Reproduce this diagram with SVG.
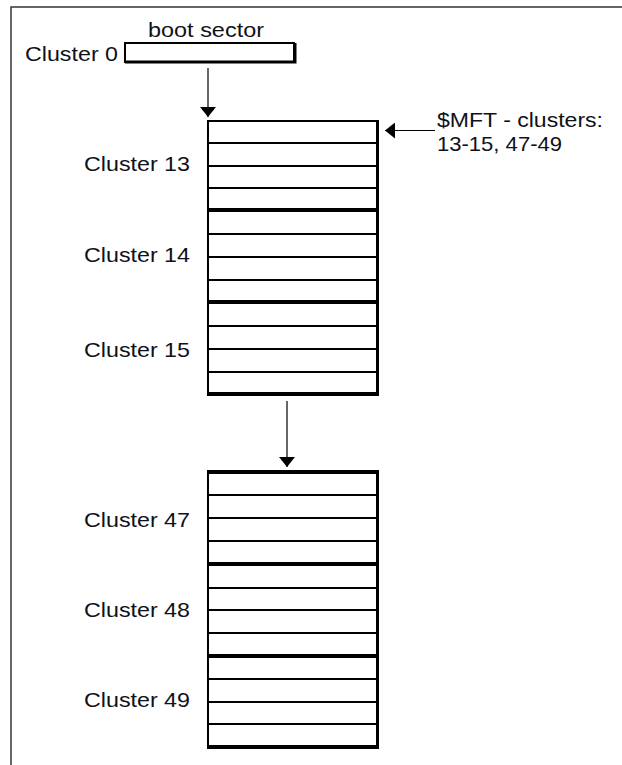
<svg xmlns="http://www.w3.org/2000/svg" width="622" height="765" viewBox="0 0 622 765">
  <style>
    .lbl { font-family: "Liberation Sans", Arial, sans-serif; font-size: 21px; fill: #111118; }
    .row { stroke: #000; stroke-width: 2; }
    .sep { stroke: #000; stroke-width: 4; }
    .edge { stroke: #000; fill: none; }
    .conn { stroke: #000; stroke-width: 1.2; fill: none; }
  </style>
  <defs>
    <marker id="head" viewBox="0 0 10 16" refX="10" refY="8" markerWidth="10" markerHeight="16" markerUnits="userSpaceOnUse" orient="auto">
      <path d="M0,0 L10,8 L0,16 Z" fill="#000"/>
    </marker>
  </defs>

  <!-- frame -->
  <path d="M11,765 V7 H622" fill="none" stroke="#333" stroke-width="1.5"/>

  <!-- boot sector -->
  <g id="boot">
    <rect x="125" y="43" width="169" height="19" fill="#fff" stroke="#000" stroke-width="2"/>
    <path d="M125,62 H295 V43" class="edge" stroke-width="3"/>
    <text class="lbl" x="148" y="37" textLength="116" lengthAdjust="spacingAndGlyphs">boot sector</text>
    <text class="lbl" x="25" y="61" textLength="93" lengthAdjust="spacingAndGlyphs">Cluster 0</text>
  </g>

  <!-- MFT part 1: clusters 13-15 -->
  <g id="mft1">
    <rect x="208" y="121" width="169" height="273" fill="#fff"/>
    <line class="row" x1="207" y1="121" x2="378" y2="121"/>
    <line class="row" x1="207" y1="143" x2="378" y2="143"/>
    <line class="row" x1="207" y1="166" x2="378" y2="166"/>
    <line class="row" x1="207" y1="188" x2="378" y2="188"/>
    <line class="sep" x1="207" y1="210" x2="378" y2="210"/>
    <line class="row" x1="207" y1="234" x2="378" y2="234"/>
    <line class="row" x1="207" y1="257" x2="378" y2="257"/>
    <line class="row" x1="207" y1="280" x2="378" y2="280"/>
    <line class="sep" x1="207" y1="302" x2="378" y2="302"/>
    <line class="row" x1="207" y1="326" x2="378" y2="326"/>
    <line class="row" x1="207" y1="349" x2="378" y2="349"/>
    <line class="row" x1="207" y1="372" x2="378" y2="372"/>
    <line class="sep" x1="207" y1="394" x2="379" y2="394"/>
    <line class="edge" x1="208" y1="120" x2="208" y2="396" stroke-width="2"/>
    <line class="edge" x1="377.5" y1="120" x2="377.5" y2="396" stroke-width="3"/>
    <text class="lbl" x="84" y="171" textLength="106" lengthAdjust="spacingAndGlyphs">Cluster 13</text>
    <text class="lbl" x="84" y="262" textLength="106" lengthAdjust="spacingAndGlyphs">Cluster 14</text>
    <text class="lbl" x="84" y="357" textLength="106" lengthAdjust="spacingAndGlyphs">Cluster 15</text>
  </g>

  <!-- MFT part 2: clusters 47-49 -->
  <g id="mft2">
    <rect x="208" y="472" width="169" height="275" fill="#fff"/>
    <line class="sep" x1="207" y1="472" x2="379" y2="472"/>
    <line class="row" x1="207" y1="495" x2="378" y2="495"/>
    <line class="row" x1="207" y1="518" x2="378" y2="518"/>
    <line class="row" x1="207" y1="541" x2="378" y2="541"/>
    <line class="sep" x1="207" y1="564" x2="378" y2="564"/>
    <line class="row" x1="207" y1="588" x2="378" y2="588"/>
    <line class="row" x1="207" y1="610" x2="378" y2="610"/>
    <line class="row" x1="207" y1="633" x2="378" y2="633"/>
    <line class="sep" x1="207" y1="656" x2="378" y2="656"/>
    <line class="row" x1="207" y1="679" x2="378" y2="679"/>
    <line class="row" x1="207" y1="702" x2="378" y2="702"/>
    <line class="row" x1="207" y1="724" x2="378" y2="724"/>
    <line class="sep" x1="207" y1="747" x2="379" y2="747"/>
    <line class="edge" x1="208" y1="470" x2="208" y2="749" stroke-width="2"/>
    <line class="edge" x1="377.5" y1="470" x2="377.5" y2="749" stroke-width="3"/>
    <text class="lbl" x="84" y="527" textLength="106" lengthAdjust="spacingAndGlyphs">Cluster 47</text>
    <text class="lbl" x="84" y="617" textLength="106" lengthAdjust="spacingAndGlyphs">Cluster 48</text>
    <text class="lbl" x="84" y="707" textLength="106" lengthAdjust="spacingAndGlyphs">Cluster 49</text>
  </g>

  <!-- $MFT note -->
  <g id="note">
    <text class="lbl" x="437" y="127" textLength="166" lengthAdjust="spacingAndGlyphs">$MFT - clusters:</text>
    <text class="lbl" x="437" y="151" textLength="125" lengthAdjust="spacingAndGlyphs">13-15, 47-49</text>
  </g>

  <!-- connectors -->
  <g id="connectors">
    <line class="conn" x1="208" y1="68" x2="208" y2="117" marker-end="url(#head)"/>
    <line class="conn" x1="435" y1="130.5" x2="385" y2="130.5" marker-end="url(#head)"/>
    <line class="conn" x1="287" y1="401" x2="287" y2="467" stroke="#555" marker-end="url(#head)"/>
  </g>
</svg>
